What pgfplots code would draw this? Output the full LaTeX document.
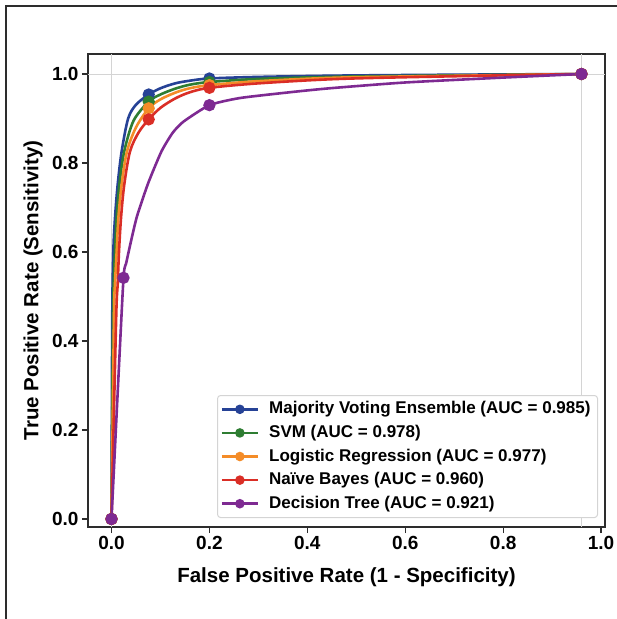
\documentclass[border=0pt]{standalone}
\usepackage{fontspec}
\setmainfont{Liberation Sans}
\usepackage{pgfplots}
\pgfplotsset{compat=1.18}
\definecolor{cBlue}{RGB}{38,66,150}
\definecolor{cGreen}{RGB}{46,125,50}
\definecolor{cOrange}{RGB}{244,140,40}
\definecolor{cRed}{RGB}{218,46,38}
\definecolor{cPurple}{RGB}{126,42,146}
\definecolor{cGrid}{RGB}{212,212,212}
\definecolor{cAxis}{RGB}{45,45,45}
\begin{document}
\begin{tikzpicture}
\useasboundingbox (0pt,0pt) rectangle (617pt,619pt);
\draw[cAxis, line width=1.5pt] (6pt,-2pt) -- (6pt,613pt) -- (620pt,613pt);
\begin{axis}[
  at={(88pt,92pt)}, anchor=south west,
  scale only axis, width=517pt, height=473pt,
  xmin=-0.048, xmax=1.008, ymin=-0.018, ymax=1.045,
  xtick={0,0.2,0.4,0.6,0.8,1}, ytick={0,0.2,0.4,0.6,0.8,1},
  tick pos=left, tick align=outside, major tick length=6pt,
  axis line style={cAxis, line width=1.5pt},
  tick style={cAxis, line width=1.3pt},
  tick label style={font=\fontsize{19}{22}\selectfont\bfseries},
  /pgf/number format/.cd, fixed, fixed zerofill, precision=1, assume math mode=true,
  /pgfplots/.cd,
  label style={font=\fontsize{20.5}{24}\selectfont\bfseries},
  xlabel={False Positive Rate (1 - Specificity)},
  ylabel={True Positive Rate (Sensitivity)},
  xlabel style={at={(axis description cs:0.5,-0.1057)}, anchor=center},
  ylabel style={at={(axis description cs:-0.1064,0.5)}, anchor=center},
  legend cell align=left,
  legend style={at={(axis description cs:0.9865,0.019)}, anchor=south east,
    draw=cGrid, line width=1pt, rounded corners=3pt, fill=white,
    font=\fontsize{17}{20}\selectfont\bfseries,
    inner xsep=3pt, inner ysep=2pt, row sep=0pt,
    nodes={inner xsep=4pt, inner ysep=3.8pt, text height=12.5pt, text depth=3.5pt}},
  legend image code/.code={
    \draw[#1, mark=none] (0pt,0pt) -- (36pt,0pt);
    \draw[#1, mark size=3.4pt] plot coordinates {(18pt,0pt)};
    \path (42pt,0pt);
  },
  every axis plot/.append style={line width=2.6pt, mark=*, mark size=4.8pt,
    mark options={solid, line width=0pt}},
]
\addplot[cGrid, line width=1pt, mark=none, forget plot] coordinates {(0,-0.018) (0,1.045)};
\addplot[cGrid, line width=1pt, mark=none, forget plot] coordinates {(0.96,-0.018) (0.96,1.045)};
\addplot[cGrid, line width=1pt, mark=none, forget plot] coordinates {(-0.048,1) (1.008,1)};

\addplot[cBlue, smooth, mark indices={1,9,13,17}, mark options={fill=cBlue, draw=cBlue}] coordinates {
 (0,0) (0.0015,0.45) (0.0037,0.6) (0.0071,0.676) (0.0126,0.751) (0.0207,0.826)
 (0.034,0.9) (0.05,0.931) (0.076,0.954) (0.1,0.968) (0.13,0.979) (0.16,0.985)
 (0.2,0.99) (0.3,0.9935) (0.466,0.9965) (0.7,0.9985) (0.96,1)};
\addlegendentry{Majority Voting Ensemble (AUC = 0.985)}

\addplot[cGreen, smooth, mark indices={1,9,13,17}, mark options={fill=cGreen, draw=cGreen}] coordinates {
 (0,0) (0.003,0.45) (0.0044,0.526) (0.0071,0.6) (0.0105,0.676) (0.016,0.751)
 (0.026,0.826) (0.045,0.895) (0.076,0.938) (0.1,0.954) (0.13,0.967) (0.16,0.976)
 (0.2,0.982) (0.3,0.989) (0.466,0.994) (0.7,0.997) (0.96,1)};
\addlegendentry{SVM (AUC = 0.978)}

\addplot[cOrange, smooth, mark indices={1,9,13,17}, mark options={fill=cOrange, draw=cOrange}] coordinates {
 (0,0) (0.005,0.45) (0.007,0.526) (0.0105,0.6) (0.014,0.676) (0.0207,0.751)
 (0.0316,0.826) (0.05,0.88) (0.076,0.923) (0.1,0.943) (0.13,0.958) (0.16,0.968)
 (0.2,0.975) (0.3,0.984) (0.466,0.992) (0.7,0.996) (0.96,1)};
\addlegendentry{Logistic Regression (AUC = 0.977)}

\addplot[cRed, smooth, mark indices={1,9,13,17}, mark options={fill=cRed, draw=cRed}] coordinates {
 (0,0) (0.0095,0.45) (0.0126,0.526) (0.0153,0.6) (0.0194,0.676) (0.026,0.751)
 (0.0378,0.826) (0.055,0.868) (0.076,0.898) (0.1,0.924) (0.13,0.945) (0.16,0.959)
 (0.2,0.969) (0.3,0.979) (0.466,0.989) (0.7,0.995) (0.96,1)};
\addlegendentry{Naïve Bayes (AUC = 0.960)}

\addplot[cPurple, smooth, tension=0.35, mark indices={1,3,11,17}, mark options={fill=cPurple, draw=cPurple}] coordinates {
 (0,0) (0.012,0.27) (0.0245,0.542) (0.03,0.575) (0.04,0.625) (0.052,0.68)
 (0.075,0.755) (0.102,0.826) (0.125,0.868) (0.147,0.893) (0.2,0.93) (0.262,0.946)
 (0.364,0.959) (0.446,0.968) (0.6,0.981) (0.8,0.992) (0.96,1)};
\addlegendentry{Decision Tree (AUC = 0.921)}
\end{axis}
\end{tikzpicture}
\end{document}
